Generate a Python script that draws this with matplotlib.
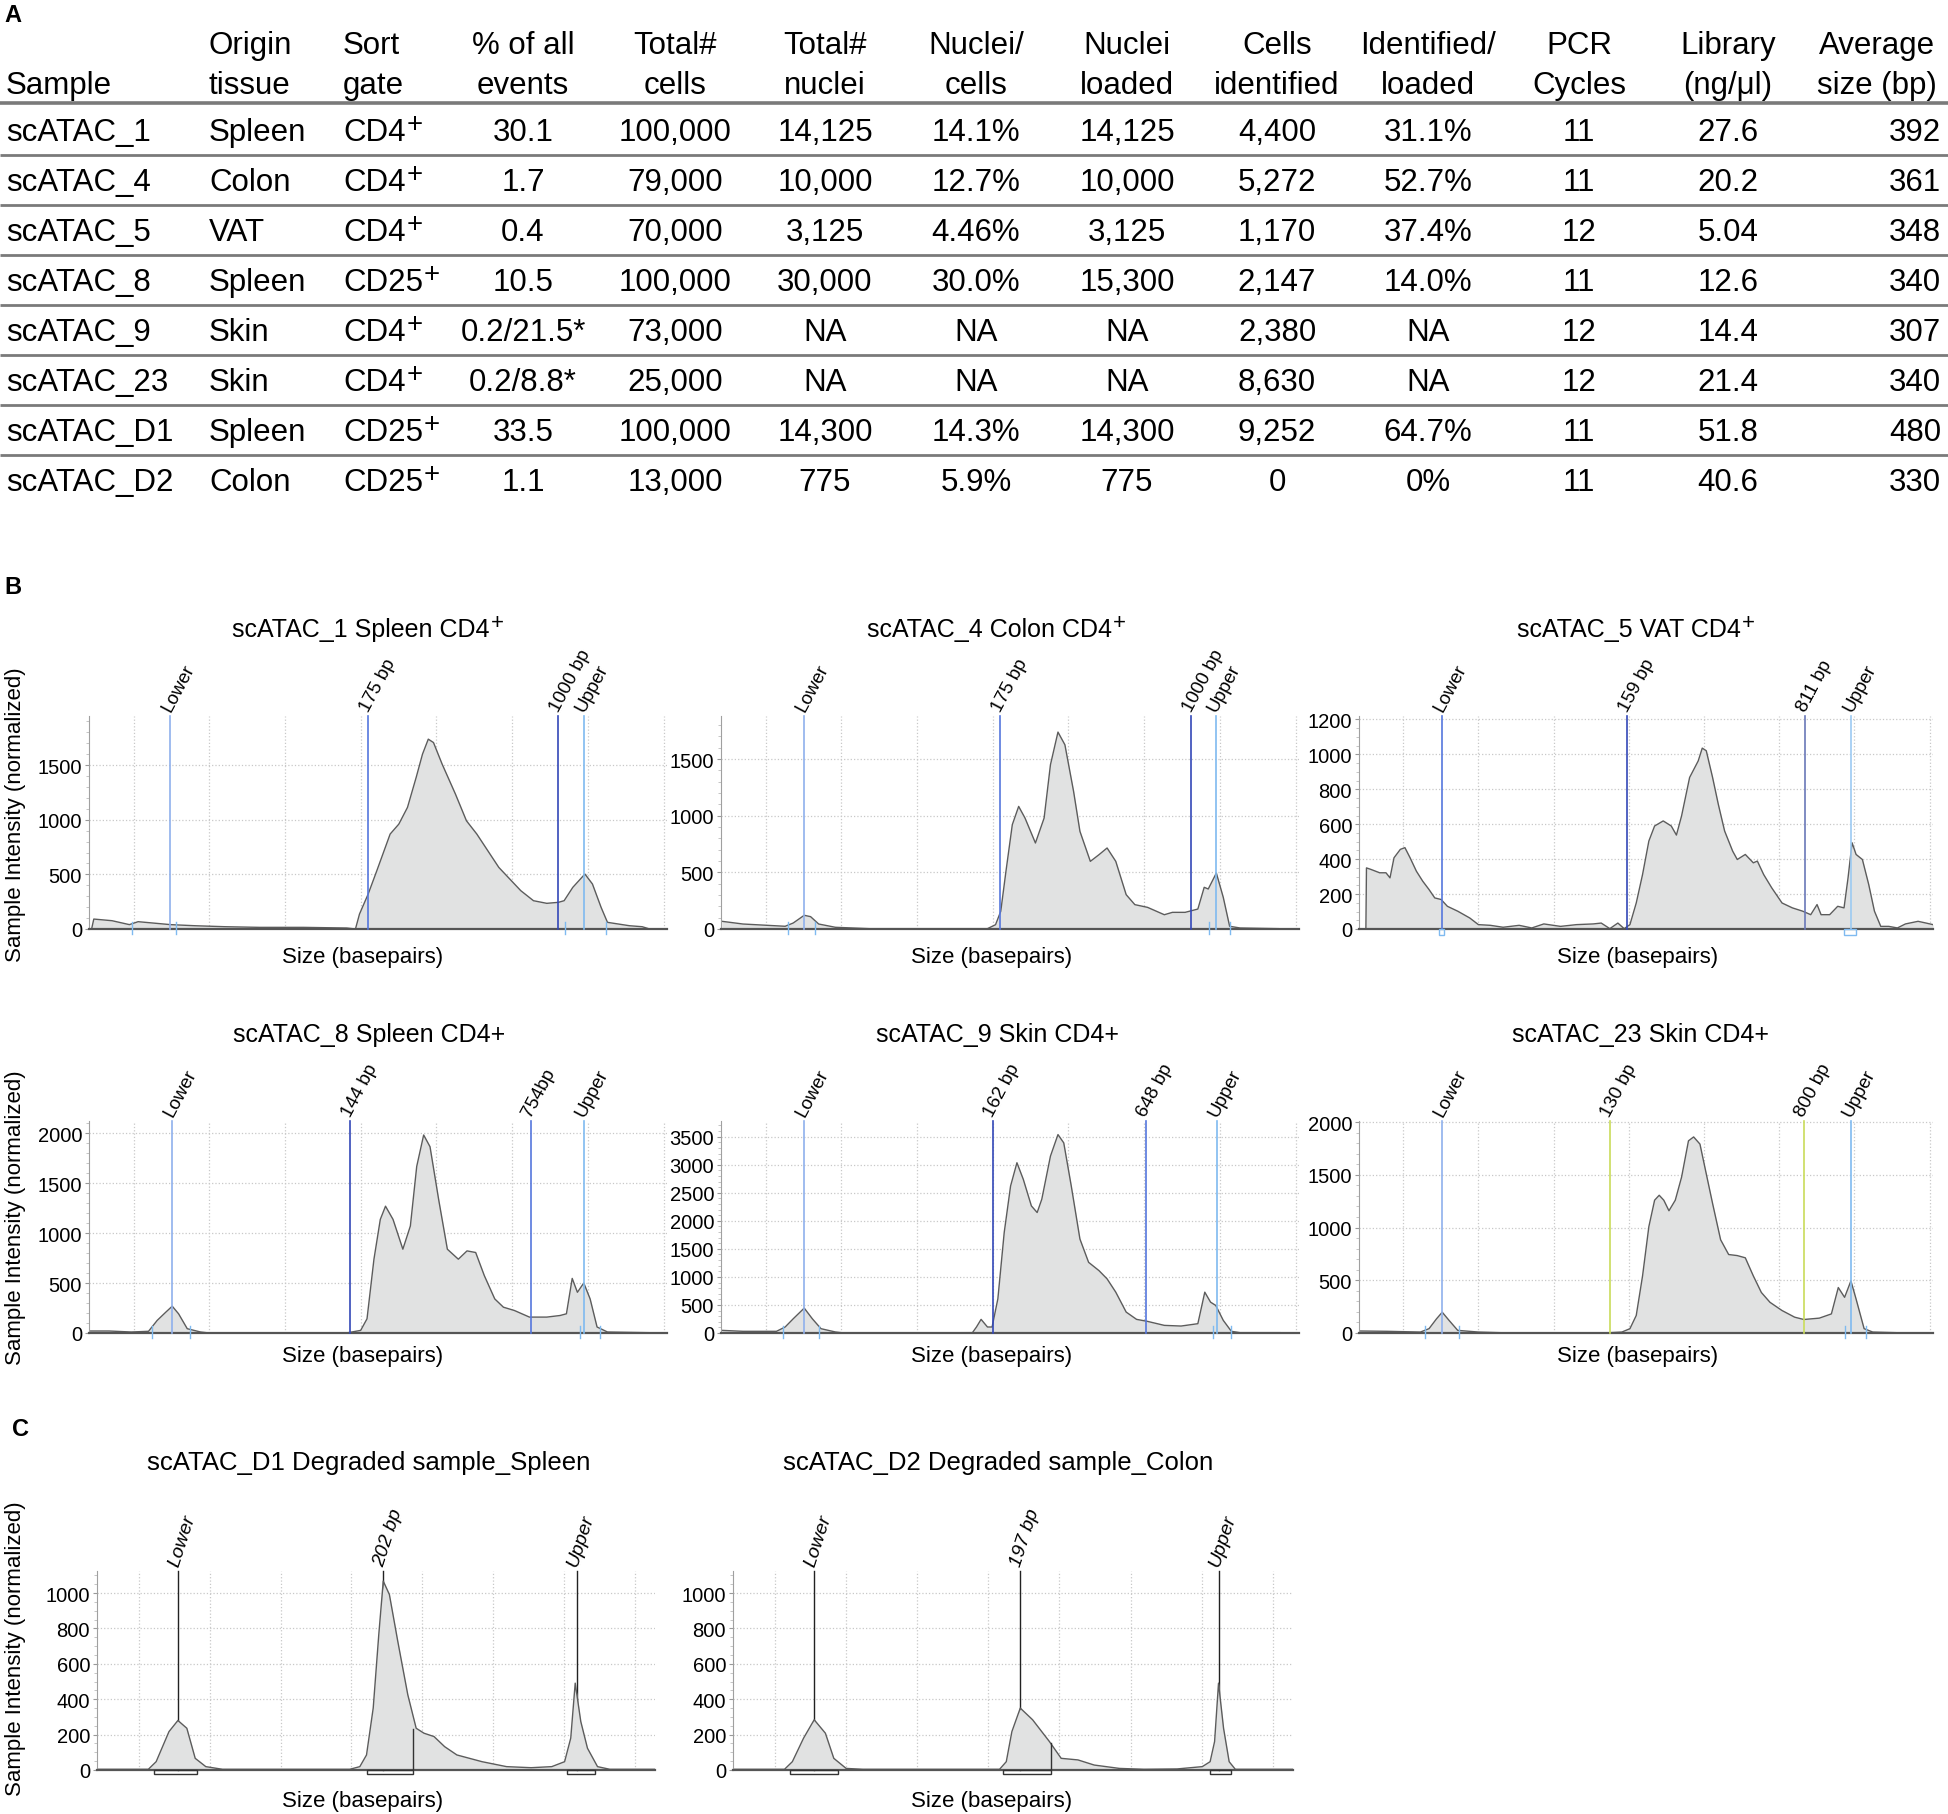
import numpy as np
import matplotlib.pyplot as plt
from matplotlib.ticker import MultipleLocator
from matplotlib.patches import Rectangle

plt.rcParams['font.family'] = ['Liberation Sans', 'DejaVu Sans']

W, H = 1949, 1815

# ---------------- table data (panel A) ----------------
samples = ['scATAC_1', 'scATAC_4', 'scATAC_5', 'scATAC_8', 'scATAC_9', 'scATAC_23', 'scATAC_D1', 'scATAC_D2']
tissue = ['Spleen', 'Colon', 'VAT', 'Spleen', 'Skin', 'Skin', 'Spleen', 'Colon']
sort_gate = ['CD4', 'CD4', 'CD4', 'CD25', 'CD4', 'CD4', 'CD25', 'CD25']
pct_events = ['30.1', '1.7', '0.4', '10.5', '0.2/21.5*', '0.2/8.8*', '33.5', '1.1']
total_cells = ['100,000', '79,000', '70,000', '100,000', '73,000', '25,000', '100,000', '13,000']
total_nuclei = ['14,125', '10,000', '3,125', '30,000', 'NA', 'NA', '14,300', '775']
nuclei_per_cells = ['14.1%', '12.7%', '4.46%', '30.0%', 'NA', 'NA', '14.3%', '5.9%']
nuclei_loaded = ['14,125', '10,000', '3,125', '15,300', 'NA', 'NA', '14,300', '775']
cells_identified = ['4,400', '5,272', '1,170', '2,147', '2,380', '8,630', '9,252', '0']
ident_loaded = ['31.1%', '52.7%', '37.4%', '14.0%', 'NA', 'NA', '64.7%', '0%']
pcr_cycles = [11, 11, 12, 11, 12, 12, 11, 11]
library_conc = ['27.6', '20.2', '5.04', '12.6', '14.4', '21.4', '51.8', '40.6']
avg_size = [392, 361, 348, 340, 307, 340, 480, 330]

header_top = ['', 'Origin', 'Sort', '% of all', 'Total#', 'Total#', 'Nuclei/', 'Nuclei',
              'Cells', 'Identified/', 'PCR', 'Library', 'Average']
header_bot = ['Sample', 'tissue', 'gate', 'events', 'cells', 'nuclei', 'cells', 'loaded',
              'identified', 'loaded', 'Cycles', '(ng/μl)', 'size (bp)']

# ---------------- electropherogram traces (x = % of axis width) ----------------
b1_x = [0.45, 0.83, 3.98, 6.99, 8.5, 14.1, 18.3, 23.5, 29.5, 37.1, 44.6, 46.1, 46.8, 48.3, 49.8, 52.1,
        53.6, 55.1, 56.6, 57.7, 58.7, 59.6, 61.1, 63.4, 65.3, 67.1, 70.9, 74.7, 76.9, 79.2, 81.2, 82.2,
        83.7, 85.8, 87.1, 88.6, 89.7, 93.5, 95.7, 97.0]
b1_y = [0, 91, 76, 40, 67, 40, 30, 21, 15, 15, 9, 0, 137, 320, 534, 869,
        960, 1113, 1387, 1601, 1738, 1707, 1509, 1235, 991, 869, 564, 351, 259, 235, 244, 259,
        381, 503, 412, 198, 61, 30, 21, 0]

b2_x = [0.15, 3.8, 11.1, 12.5, 14.4, 15.5, 16.9, 19.8, 25.7, 46.1, 47.5, 48.4, 49.3, 50.4, 51.5, 52.6,
        54.4, 55.9, 57.0, 58.3, 59.5, 61.0, 62.1, 63.9, 65.4, 66.8, 68.3, 70.1, 71.6, 73.8, 76.7, 78.1,
        80.3, 82.5, 83.6, 84.3, 85.7, 86.9, 88.0, 89.8, 96.4]
b2_y = [68, 44, 24, 53, 121, 109, 44, 15, 3, 3, 38, 156, 509, 921, 1082, 979,
        759, 979, 1450, 1738, 1626, 1215, 862, 597, 656, 715, 597, 303, 215, 191, 126, 147,
        147, 176, 368, 353, 494, 279, 24, 9, 3]

b3_x = [1.2, 1.3, 2.1, 3.6, 4.7, 5.4, 6.1, 7.2, 8.0, 8.9, 10.0, 11.1, 12.2, 13.2, 14.3, 15.4, 17.2,
        19.3, 20.8, 22.9, 25.1, 27.9, 30.1, 32.2, 35.1, 37.9, 40.8, 42.2, 43.7, 45.1, 46.2, 47.2, 48.3,
        49.4, 50.5, 51.5, 53.0, 54.4, 55.3, 56.2, 57.6, 59.1, 59.8, 60.5, 61.6, 62.6, 63.7, 65.1, 65.9,
        67.3, 68.7, 69.4, 70.5, 71.9, 73.7, 75.5, 77.3, 78.7, 79.8, 80.5, 82.0, 83.4, 84.5, 85.2, 85.9,
        86.6, 87.7, 88.8, 89.8, 90.9, 92.3, 93.8, 95.2, 97.4, 98.8, 100.0]
b3_y = [0, 350, 341, 322, 322, 293, 408, 456, 466, 408, 331, 274, 226, 178, 169, 130, 102,
        63, 25, 21, 10, 21, 6, 29, 15, 25, 29, 34, 2, 34, 2, 25, 149,
        312, 504, 590, 619, 590, 538, 648, 868, 963, 1036, 1021, 868, 714, 561, 446, 398,
        427, 379, 389, 312, 236, 149, 121, 102, 82, 140, 82, 82, 130, 121, 293, 494,
        427, 398, 255, 102, 15, 15, 6, 29, 44, 34, 25]

b4_x = [0.15, 3.5, 7.3, 10.3, 11.8, 13.3, 14.4, 15.5, 17.0, 19.3, 20.8, 44.8, 47.0, 48.1, 49.3, 50.4,
        51.3, 52.6, 54.3, 55.6, 56.7, 57.9, 59.0, 60.5, 62.0, 63.9, 65.4, 66.9, 68.4, 70.2, 71.7, 73.6,
        76.2, 79.2, 81.5, 82.6, 83.6, 84.5, 85.6, 86.7, 87.9, 89.7, 97.0]
b4_y = [20, 20, 10, 17, 126, 209, 268, 192, 43, 10, 0, 3, 26, 142, 738, 1136,
        1268, 1136, 838, 1070, 1666, 1980, 1863, 1333, 838, 738, 821, 805, 573, 341, 258, 225,
        159, 159, 175, 192, 546, 407, 500, 341, 60, 10, 3]

b5_x = [0.15, 3.8, 9.6, 11.1, 12.5, 14.4, 15.8, 17.3, 19.8, 21.3, 43.5, 44.2, 45.0, 46.1, 46.9, 47.9,
        49.0, 50.1, 51.2, 52.3, 53.7, 54.7, 55.5, 57.0, 58.3, 59.3, 60.6, 62.1, 63.6, 65.4, 66.8, 68.3,
        70.1, 71.9, 73.8, 76.7, 79.6, 82.5, 83.7, 84.7, 85.6, 86.9, 88.3, 89.8, 96.7]
b5_y = [47, 30, 30, 107, 254, 444, 254, 77, 18, 0, 6, 107, 243, 107, 107, 609,
        1793, 2621, 3036, 2740, 2266, 2148, 2385, 3154, 3538, 3390, 2621, 1675, 1260, 1112, 965, 728,
        373, 243, 207, 136, 124, 166, 728, 550, 491, 225, 30, 6, 6]

b6_x = [0.14, 5.0, 10.7, 12.2, 13.5, 14.5, 15.7, 17.2, 20.8, 26.5, 43.7, 45.8, 47.2, 48.3, 49.4, 50.5,
        51.5, 52.3, 53.1, 54.0, 55.1, 56.2, 57.4, 58.3, 59.4, 60.5, 61.6, 63.0, 64.4, 65.9, 67.3, 68.7,
        70.1, 71.6, 73.7, 75.9, 77.5, 80.2, 82.3, 83.5, 84.6, 85.7, 86.6, 88.0, 89.5, 95.6]
b6_y = [19, 16, 9, 41, 134, 197, 119, 25, 9, 0, 3, 9, 41, 166, 541, 1009,
        1259, 1306, 1259, 1159, 1259, 1478, 1822, 1859, 1791, 1509, 1228, 884, 744, 734, 713, 541,
        384, 291, 213, 150, 128, 141, 181, 431, 338, 494, 322, 41, 9, 0]

c1_x = [0, 9.2, 10.6, 12.9, 14.5, 16.1, 17.6, 19.5, 22.5, 45.3, 47.1, 48.3, 49.5, 50.5, 51.3, 52.4,
        53.9, 55.7, 57.2, 58.6, 60.4, 62.3, 64.5, 69.0, 73.4, 77.8, 81.5, 83.8, 84.9, 85.7, 86.7, 87.9,
        89.7, 91.9, 100]
c1_y = [4, 4, 47, 217, 280, 236, 66, 19, 4, 4, 19, 85, 350, 766, 1068, 992,
        728, 425, 236, 208, 189, 132, 85, 47, 19, 13, 19, 47, 180, 491, 274, 123,
        19, 4, 4]

c2_x = [0, 9.2, 10.6, 12.6, 14.5, 16.5, 18.0, 20.2, 23.2, 47.6, 48.8, 49.8, 51.3, 53.5, 56.5, 58.6,
        61.6, 64.5, 69.0, 73.4, 79.3, 83.8, 85.2, 86.0, 86.7, 87.6, 88.6, 89.7, 100]
c2_y = [4, 4, 47, 180, 284, 208, 66, 9, 4, 4, 47, 217, 350, 284, 161, 66,
        57, 28, 9, 4, 6, 19, 47, 161, 491, 236, 47, 4, 4]

# marker labels and positions
b1_mk = ['Lower', '175 bp', '1000 bp', 'Upper']
b1_mx = [14.1, 48.3, 81.2, 85.6]
b2_mk = ['Lower', '175 bp', '1000 bp', 'Upper']
b2_mx = [14.4, 48.3, 81.4, 85.7]
b3_mk = ['Lower', '159 bp', '811 bp', 'Upper']
b3_mx = [14.5, 46.7, 77.7, 85.8]
b4_mk = ['Lower', '144 bp', '754bp', 'Upper']
b4_mx = [14.4, 45.2, 76.4, 85.6]
b5_mk = ['Lower', '162 bp', '648 bp', 'Upper']
b5_mx = [14.4, 47.0, 73.5, 85.8]
b6_mk = ['Lower', '130 bp', '800 bp', 'Upper']
b6_mx = [14.5, 43.7, 77.5, 85.7]
c1_mk = ['Lower', '202 bp', 'Upper']
c1_mx = [14.5, 51.3, 86.0]
c2_mk = ['Lower', '197 bp', 'Upper']
c2_mx = [14.5, 51.3, 86.7]

# peak region boundaries
b1_bd = [7.5, 15.0, 82.3, 89.5]
b2_bd = [11.6, 16.3, 84.5, 88.1]
b4_bd = [10.9, 17.5, 84.9, 88.4]
b5_bd = [10.8, 17.0, 85.1, 88.3]
b6_bd = [11.5, 17.4, 84.7, 88.4]
b3_boxes = [(14.0, 14.8), (84.5, 86.6)]
c1_boxes = [(10.3, 18.0), (48.3, 56.7), (84.2, 89.2)]
c2_boxes = [(10.2, 18.8), (48.3, 56.7), (85.2, 88.9)]
c1_edge = (56.7, 230)
c2_edge = (56.7, 150)

# ---------------- styles ----------------
LB = '#8fb0ec'
UB = '#7fbaf0'
MB = '#5577dd'
DB = '#3348b8'
YG = '#c9dc5a'
b_colors = {
    'b1': [LB, MB, DB, UB], 'b2': [LB, MB, DB, UB], 'b3': [MB, DB, '#6a78b8', '#9ccaf2'],
    'b4': [LB, DB, MB, UB], 'b5': [LB, DB, MB, UB], 'b6': [LB, YG, YG, UB],
}
FILL = '#e1e2e2'
EDGE = '#5c5c5c'


def px(x, y):
    return x / W, 1 - y / H


def rect(x0, y0, x1, y1):
    return [x0 / W, 1 - y1 / H, (x1 - x0) / W, (y1 - y0) / H]


fig = plt.figure(figsize=(W / 100, H / 100), dpi=100)
ov = fig.add_axes([0, 0, 1, 1])
ov.set_xlim(0, W)
ov.set_ylim(H, 0)
ov.axis('off')


def add_plus(t, size):
    # raised "+" right after a text artist
    ov.annotate('+', xy=(1.0, 0.76), xycoords=t, xytext=(0.5, 0), textcoords='offset points',
                fontsize=size * 0.88, ha='left', va='center')


# ---------------- panel A: table ----------------
fig.text(*px(4, 16), 'A', fontsize=17, fontweight='bold', va='center', ha='left')
col_x = [6, 209, 343, 523, 675, 825, 976, 1127, 1277, 1428, 1579, 1728, 1877]
col_ha = ['left', 'left', 'left'] + ['center'] * 10
TFS = 22.5
for cx, ha, t1, t2 in zip(col_x, col_ha, header_top, header_bot):
    if t1:
        fig.text(*px(cx, 46), t1, fontsize=TFS, ha=ha, va='center')
    fig.text(*px(cx, 86), t2, fontsize=TFS, ha=ha, va='center')

columns = [samples, tissue, sort_gate, pct_events, total_cells, total_nuclei,
           nuclei_per_cells, nuclei_loaded, cells_identified, ident_loaded,
           [str(v) for v in pcr_cycles], library_conc]
ov.hlines(104, 0, W, color='#7a7a7a', lw=2.6)
for i in range(len(samples)):
    ry = 133 + 50 * i
    for j, (cx, ha, col) in enumerate(zip(col_x, col_ha, columns)):
        t = fig.text(*px(cx, ry), col[i], fontsize=TFS, ha=ha, va='center')
        if j == 2:
            add_plus(t, TFS)
    fig.text(*px(1941, ry), str(avg_size[i]), fontsize=TFS, ha='right', va='center')
    if i < len(samples) - 1:
        ov.hlines(ry + 23, 0, W, color='#7a7a7a', lw=2.0)


# ---------------- electropherograms ----------------
def setup(ax, ymax, ystep, minor):
    ax.set_xlim(0, 100)
    ax.set_ylim(0, ymax)
    ax.yaxis.set_major_locator(MultipleLocator(ystep))
    ax.yaxis.set_minor_locator(MultipleLocator(minor))
    ax.set_xticks(np.arange(7.7, 101, 13.1))
    ax.tick_params(axis='x', length=0, labelbottom=False)
    ax.tick_params(axis='y', which='major', length=3, color='#999999', labelsize=14.5, pad=2)
    ax.tick_params(axis='y', which='minor', length=2, color='#bbbbbb')
    ax.grid(True, which='major', color='#c8c8c8', linestyle=':', linewidth=0.9)
    ax.set_axisbelow(True)
    for s in ['top', 'right']:
        ax.spines[s].set_visible(False)
    ax.spines['left'].set_color('#a0a0a0')
    ax.spines['bottom'].set_color('#555555')
    ax.spines['bottom'].set_linewidth(1.6)


def trace(ax, xs, ys, z=2):
    ax.fill_between(xs, ys, 0, color=FILL, lw=0, zorder=z)
    ax.plot(xs, ys, color=EDGE, lw=1.0, zorder=z + 0.5)


b_panels = [
    ('b1', b1_x, b1_y, b1_mk, b1_mx, b1_bd, 1950, 500, 100, (89, 717, 667, 930)),
    ('b2', b2_x, b2_y, b2_mk, b2_mx, b2_bd, 1880, 500, 100, (721, 717, 1299, 930)),
    ('b3', b3_x, b3_y, b3_mk, b3_mx, [], 1220, 200, 50, (1359, 717, 1933, 930)),
    ('b4', b4_x, b4_y, b4_mk, b4_mx, b4_bd, 2120, 500, 100, (89, 1122, 667, 1334)),
    ('b5', b5_x, b5_y, b5_mk, b5_mx, b5_bd, 3780, 500, 100, (721, 1122, 1299, 1334)),
    ('b6', b6_x, b6_y, b6_mk, b6_mx, b6_bd, 2010, 500, 100, (1359, 1122, 1933, 1334)),
]
b_titles = ['scATAC_1 Spleen CD4', 'scATAC_4 Colon CD4', 'scATAC_5 VAT CD4',
            'scATAC_8 Spleen CD4+', 'scATAC_9 Skin CD4+', 'scATAC_23 Skin CD4+']
title_x = [369, 998, 1637, 369, 998, 1640]
xlab_x = [363, 992, 1638, 363, 992, 1638]

fig.text(*px(4, 588), 'B', fontsize=17, fontweight='bold', va='center', ha='left')
for i, (key, xs, ys, mk, mx, bd, ymax, ystep, minor, box) in enumerate(b_panels):
    ax = fig.add_axes(rect(*box))
    setup(ax, ymax, ystep, minor)
    trace(ax, xs, ys)
    for lab, xv, c in zip(mk, mx, b_colors[key]):
        ax.plot([xv, xv], [0, ymax], color=c, lw=1.2, zorder=4, clip_on=False)
        ax.annotate(lab, (xv, ymax), xytext=(0, 3), textcoords='offset points', rotation=62,
                    rotation_mode='anchor', ha='left', va='baseline', fontsize=13.5)
    for b in bd:
        ax.plot([b, b], [-0.025 * ymax, 0.035 * ymax], color=UB, lw=1.0, zorder=4, clip_on=False)
    if key == 'b3':
        for x0, x1 in b3_boxes:
            ax.add_patch(Rectangle((x0, -0.03 * ymax), x1 - x0, 0.03 * ymax, fill=False,
                                   ec=UB, lw=1.0, zorder=4, clip_on=False))
    row1 = box[1] < 1000
    ty = 630 if row1 else 1035
    if row1:
        t = fig.text(*px(title_x[i] - 8, ty), b_titles[i], fontsize=18, ha='center', va='center')
        add_plus(t, 18)
    else:
        fig.text(*px(title_x[i], ty), b_titles[i], fontsize=18, ha='center', va='center')
    ly = 958 if row1 else 1357
    fig.text(*px(xlab_x[i], ly), 'Size (basepairs)', fontsize=16, ha='center', va='center')

fig.text(*px(16, 815), 'Sample Intensity (normalized)', fontsize=16, rotation=90, ha='center', va='center')
fig.text(*px(16, 1218), 'Sample Intensity (normalized)', fontsize=16, rotation=90, ha='center', va='center')

# ---------------- panel C ----------------
fig.text(*px(12, 1430), 'C', fontsize=17, fontweight='bold', va='center', ha='left')
c_panels = [
    (c1_x, c1_y, c1_mk, c1_mx, c1_boxes, c1_edge, (97, 1572, 655, 1771), 'scATAC_D1 Degraded sample_Spleen'),
    (c2_x, c2_y, c2_mk, c2_mx, c2_boxes, c2_edge, (733, 1572, 1293, 1771), 'scATAC_D2 Degraded sample_Colon'),
]
c_title_x = [369, 998]
c_xlab_x = [363, 992]
CYMAX = 1125
for i, (xs, ys, mk, mx, boxes, edge, box, title) in enumerate(c_panels):
    ax = fig.add_axes(rect(*box))
    setup(ax, CYMAX, 200, 50)
    ax.set_xticks(np.arange(7.5, 101, 12.7))
    for lab, xv in zip(mk, mx):
        ax.plot([xv, xv], [0, CYMAX], color='#222222', lw=1.0, zorder=1.5, clip_on=False)
        ax.annotate(lab, (xv, CYMAX), xytext=(0, 3), textcoords='offset points', rotation=72,
                    rotation_mode='anchor', ha='left', va='baseline', fontsize=14, style='italic')
    trace(ax, xs, ys)
    ax.plot([edge[0], edge[0]], [0, edge[1]], color='#333333', lw=1.0, zorder=4)
    for x0, x1 in boxes:
        ax.add_patch(Rectangle((x0, -20), x1 - x0, 20, fill=False, ec='#333333', lw=1.0,
                               zorder=4, clip_on=False))
    fig.text(*px(c_title_x[i], 1463), title, fontsize=18.5, ha='center', va='center')
    fig.text(*px(c_xlab_x[i], 1802), 'Size (basepairs)', fontsize=16, ha='center', va='center')

fig.text(*px(16, 1649), 'Sample Intensity (normalized)', fontsize=16, rotation=90, ha='center', va='center')

fig.savefig('out.png', dpi=100)
